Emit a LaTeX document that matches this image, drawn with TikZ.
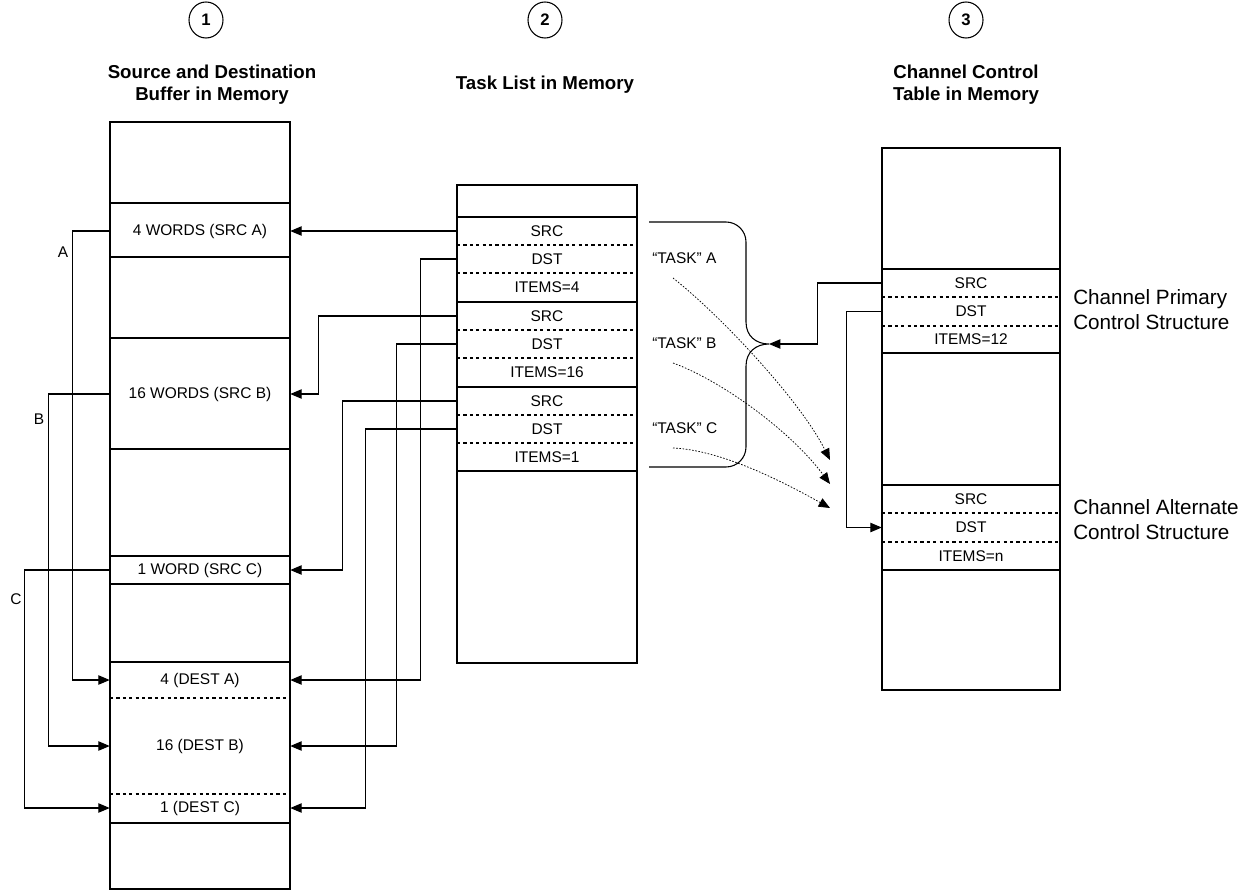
\documentclass[tikz,border=0pt]{standalone}
\usepackage{fontspec}
\setmainfont{Liberation Sans}
\usetikzlibrary{arrows.meta,shapes.geometric}
\newcommand{\cellfont}{\fontsize{11.6}{13}\selectfont}
\newcommand{\sidefont}{\fontsize{15.5}{18.75}\selectfont}
\newcommand{\headfont}{\fontsize{14}{16.5}\selectfont\bfseries}
\begin{document}
\begin{tikzpicture}[x=0.75pt,y=-0.75pt,
  frame/.style={draw, line width=1.5pt},
  solidsep/.style={line width=1.5pt},
  dashsep/.style={line width=1.4pt, dash pattern=on 2.4pt off 2.4pt},
  cellL/.style={inner sep=0pt, minimum width=135pt, font=\cellfont},
  cellR/.style={inner sep=0pt, minimum width=133.5pt, font=\cellfont},
  conn/.style={line width=0.8pt, draw=black},
  arr/.style={-{Triangle[length=8.5pt,width=7pt]}},
  taskarrow/.style={line width=0.55pt, dash pattern=on 1.2pt off 1.2pt, -{Triangle[length=8.5pt,width=7pt]}},
  lbl/.style={inner sep=0pt, font=\cellfont},
  numcirc/.style={draw, ellipse, line width=0.8pt, minimum width=25.5pt, minimum height=27pt, inner sep=0pt, font=\fontsize{12.5}{14}\selectfont\bfseries},
  head/.style={align=center, font=\headfont},
  side/.style={align=left, anchor=west, inner sep=0pt, font=\sidefont}]
\useasboundingbox (0,0) rectangle (1255,892);

% headers
\node[numcirc] (n1) at (206,20) {1};
\node[numcirc] (n2) at (545,20) {2};
\node[numcirc] (n3) at (966,20) {3};
\node[head] (h1) at (212,85) {Source and Destination\\Buffer in Memory};
\node[head] (h2) at (545,85) {Task List in Memory};
\node[head] (h3) at (966,85) {Channel Control\\Table in Memory};

% left column
\node[frame, minimum width=135pt, minimum height=575.25pt, inner sep=0pt] (colL) at (200,505.5) {};
\foreach \y in {203,257,338,449,556,584,662,823} \draw[solidsep] (110,\y) -- (290,\y);
\foreach \y in {698,794} \draw[dashsep] (110,\y) -- (290,\y);
\node[cellL] (la) at (200,231) {4 WORDS (SRC A)};
\node[cellL] (lb) at (200,394) {16 WORDS (SRC B)};
\node[cellL] (lc) at (200,570) {1 WORD (SRC C)};
\node[cellL] (lda) at (200,680) {4 (DEST A)};
\node[cellL] (ldb) at (200,746) {16 (DEST B)};
\node[cellL] (ldc) at (200,808) {1 (DEST C)};

% middle column
\node[frame, minimum width=135pt, minimum height=358.5pt, inner sep=0pt] (colM) at (547,424) {};
\foreach \y in {217,302,387,471} \draw[solidsep] (457,\y) -- (637,\y);
\foreach \y in {245,273,330,358,415,443} \draw[dashsep] (457,\y) -- (637,\y);
\node[cellL] (t1s) at (547,231) {SRC};
\node[cellL] (t1d) at (547,259) {DST};
\node[cellL] (t1i) at (547,287.5) {ITEMS=4};
\node[cellL] (t2s) at (547,316) {SRC};
\node[cellL] (t2d) at (547,344) {DST};
\node[cellL] (t2i) at (547,372.5) {ITEMS=16};
\node[cellL] (t3s) at (547,401) {SRC};
\node[cellL] (t3d) at (547,429) {DST};
\node[cellL] (t3i) at (547,457) {ITEMS=1};

% right column
\node[frame, minimum width=133.5pt, minimum height=406.5pt, inner sep=0pt] (colR) at (971,419) {};
\foreach \y in {269,353,485,570} \draw[solidsep] (882,\y) -- (1060,\y);
\foreach \y in {297,326,513,542} \draw[dashsep] (882,\y) -- (1060,\y);
\node[cellR] (ps) at (971,283) {SRC};
\node[cellR] (pd) at (971,311.5) {DST};
\node[cellR] (pi) at (971,339.5) {ITEMS=12};
\node[cellR] (as) at (971,499) {SRC};
\node[cellR] (ad) at (971,527.5) {DST};
\node[cellR] (ai) at (971,556) {ITEMS=n};
\node[side] (sp) at (1073,310) {Channel Primary\\Control Structure};
\node[side] (sa) at (1073,520) {Channel Alternate\\Control Structure};

% left loops
\node[lbl] (lA) at (63,252) {A};
\node[lbl] (lB) at (39,419) {B};
\node[lbl] (lC) at (16,599) {C};
\draw[conn,arr] (la.west) -- ++(-37,0) |- (lda.west);
\draw[conn,arr] (lb.west) -- ++(-61,0) |- (ldb.west);
\draw[conn,arr] (lc.west) -- ++(-85,0) |- (ldc.west);

% task list to buffer
\draw[conn,arr] (t1s.west) -- (la.east);
\draw[conn,arr] (t1d.west) -- ++(-36,0) |- (lda.east);
\draw[conn,arr] (t2s.west) -- ++(-138,0) |- (lb.east);
\draw[conn,arr] (t2d.west) -- ++(-60,0) |- (ldb.east);
\draw[conn,arr] (t3s.west) -- ++(-114,0) |- (lc.east);
\draw[conn,arr] (t3d.west) -- ++(-91,0) |- (ldc.east);

% brace
\coordinate (btop) at (649,222);
\coordinate (bbot) at (649,467);
\coordinate (tip) at (769,344);
\draw[conn] (btop) -- (726,222) .. controls (737,222) and (746,231) .. (746,242)
  -- (746,322) .. controls (746,336) and (756,344) .. (tip)
  .. controls (756,344) and (746,352) .. (746,366)
  -- (746,447) .. controls (746,458) and (737,467) .. (726,467) -- (bbot);

% channel control links
\draw[conn,arr] (ps.west) -- ++(-64,0) |- (tip);
\draw[conn,arr] (pd.west) -- ++(-35,0) |- (ad.west);

% tasks
\node[lbl, anchor=west] (tA) at (652,258) {“TASK” A};
\node[lbl, anchor=west] (tB) at (652,343) {“TASK” B};
\node[lbl, anchor=west] (tC) at (652,428) {“TASK” C};
\coordinate (sA) at (673,278);
\coordinate (sB) at (673,363);
\coordinate (sC) at (673,448);
\coordinate (eA) at (830,460);
\coordinate (eB) at (830,484);
\coordinate (eC) at (830,508);
\draw[taskarrow] (sA) .. controls (720,315) and (800,400) .. (eA);
\draw[taskarrow] (sB) .. controls (720,380) and (790,430) .. (eB);
\draw[taskarrow] (sC) .. controls (720,450) and (780,480) .. (eC);
\end{tikzpicture}
\end{document}
